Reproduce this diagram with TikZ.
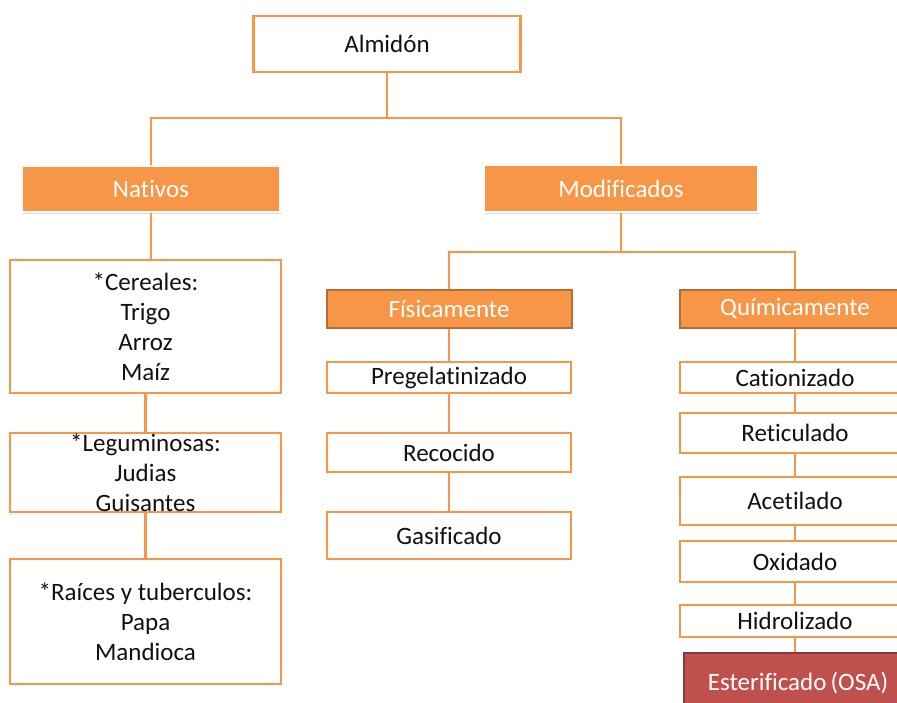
\documentclass[tikz,border=0pt]{standalone}
\usepackage{fontspec}
\setmainfont{Carlito}[Ligatures={NoCommon}]
\usetikzlibrary{shadows}
\definecolor{orng}{HTML}{F79646}
\definecolor{orngdark}{HTML}{B66D31}
\definecolor{redf}{HTML}{C0504D}
\definecolor{redd}{HTML}{8C3836}
\definecolor{txt}{HTML}{111111}
\begin{document}
\begin{tikzpicture}[x=1pt,y=-1pt,
  every node/.style={inner sep=0pt, align=center, font=\fontsize{25}{30}\selectfont},
  wbox/.style={draw=orng, line width=2.8pt, fill=white, text=txt},
  hbox/.style={draw=white, line width=2.5pt, fill=orng, text=white,
    drop shadow={opacity=0.3, shadow xshift=1pt, shadow yshift=-2pt}},
  sbox/.style={draw=orngdark, line width=2pt, fill=orng, text=white},
  rbox/.style={draw=redd, line width=2pt, fill=redf, text=white},
  conn/.style={draw=orng, line width=2.8pt}]
\useasboundingbox (0,0) rectangle (897,702);
\clip (0,0) rectangle (897,702);

% top
\node[wbox, minimum width=267pt, minimum height=56pt] (almidon) at (387,44) {Almidón};
\node[hbox, minimum width=259pt, minimum height=46pt] (nativos) at (151,189) {Nativos};
\node[hbox, minimum width=274pt, minimum height=47pt] (modificados) at (621,188.5) {Modificados};

% left column
\node[wbox, minimum width=271pt, minimum height=133pt] (cereales) at (145.5,326.5) {*Cereales:\\Trigo\\Arroz\\Maíz};
\node[wbox, minimum width=271pt, minimum height=79pt] (leguminosas) at (145.5,472.5) {*Leguminosas:\\Judias\\Guisantes};
\node[wbox, minimum width=271pt, minimum height=125pt] (raices) at (145.5,621.5) {*Raíces y tuberculos:\\Papa\\Mandioca};

% middle column
\node[sbox, minimum width=245pt, minimum height=38pt] (fisica) at (449,309) {Físicamente};
\node[wbox, minimum width=244pt, minimum height=31pt] (pregel) at (449,377.5) {Pregelatinizado};
\node[wbox, minimum width=244pt, minimum height=39pt] (recocido) at (449,452.5) {Recocido};
\node[wbox, minimum width=244pt, minimum height=47pt] (gasif) at (449,535.5) {Gasificado};

% right column
\node[sbox, minimum width=230pt, minimum height=38pt] (quimica) at (795,309) {Químicamente};
\node[wbox, minimum width=230pt, minimum height=31pt] (cation) at (795,377.5) {Cationizado};
\node[wbox, minimum width=230pt, minimum height=40pt] (retic) at (795,433) {Reticulado};
\node[wbox, minimum width=230pt, minimum height=48pt] (acet) at (795,501) {Acetilado};
\node[wbox, minimum width=230pt, minimum height=41pt] (oxid) at (795,561.5) {Oxidado};
\node[wbox, minimum width=230pt, minimum height=32pt] (hidro) at (795,621) {Hidrolizado};
\node[rbox, minimum width=228pt, minimum height=60pt] (ester) at (798,683) {Esterificado\,(OSA)};

% connectors
\coordinate (j1) at (387,118);
\draw[conn] (almidon) -- (j1);
\draw[conn] (nativos.north) |- (j1) -| (modificados.north);
\coordinate (j2) at (621,252);
\draw[conn] (modificados) -- (j2);
\draw[conn] (fisica.north) |- (j2) -| (quimica.north);

\draw[conn] (nativos.south) -- (nativos.south |- cereales.north);
\draw[conn] (cereales) -- (leguminosas);
\draw[conn] (leguminosas) -- (raices);

\draw[conn] (fisica) -- (pregel);
\draw[conn] (pregel) -- (recocido);
\draw[conn] (recocido) -- (gasif);

\draw[conn] (quimica) -- (cation);
\draw[conn] (cation) -- (retic);
\draw[conn] (retic) -- (acet);
\draw[conn] (acet) -- (oxid);
\draw[conn] (oxid) -- (hidro);
\draw[conn] (hidro.south) -- (hidro.south |- ester.north);
\end{tikzpicture}
\end{document}
